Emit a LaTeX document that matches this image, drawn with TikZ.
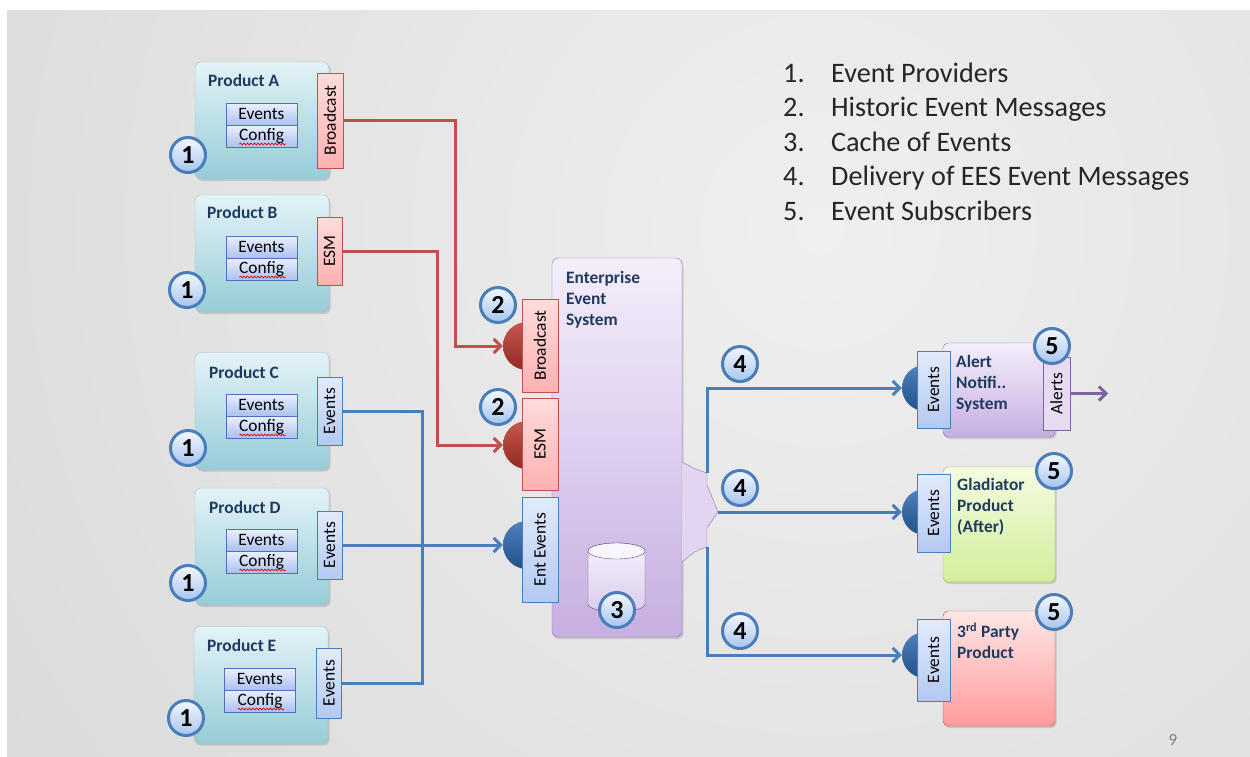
\documentclass[tikz,border=0pt]{standalone}
\usepackage{fontspec}
\setmainfont{Carlito}
\usepackage{tikz}
\usetikzlibrary{arrows.meta,positioning,calc,shapes.geometric,shadows,decorations.pathmorphing}

\definecolor{bggray}{HTML}{D6D6D6}
\definecolor{bglight}{HTML}{EFEFEF}
\definecolor{provtop}{HTML}{E3F3F7}
\definecolor{provbot}{HTML}{96CCD7}
\definecolor{provline}{HTML}{A3BEC5}
\definecolor{celltop}{HTML}{EAF0FF}
\definecolor{cellbot}{HTML}{ACC1EF}
\definecolor{cellline}{HTML}{4F6FBF}
\definecolor{redtop}{HTML}{FFDCDC}
\definecolor{redbot}{HTML}{FFB0B0}
\definecolor{redline}{HTML}{C0504D}
\definecolor{bluetop}{HTML}{E2EBFC}
\definecolor{bluebot}{HTML}{B3C9F2}
\definecolor{blueline}{HTML}{4A7EBB}
\definecolor{eestop}{HTML}{F4EEFB}
\definecolor{eesbot}{HTML}{C6AFE1}
\definecolor{eesline}{HTML}{8E70B2}
\definecolor{greentop}{HTML}{F4FCDF}
\definecolor{greenbot}{HTML}{D2EE9C}
\definecolor{greenline}{HTML}{9BBB59}
\definecolor{pinktop}{HTML}{FFE6E6}
\definecolor{pinkbot}{HTML}{FF9B9B}
\definecolor{numtop}{HTML}{F4F8FE}
\definecolor{numbot}{HTML}{A6C4EE}
\definecolor{titlecol}{HTML}{1F3A60}
\definecolor{discred}{HTML}{C0392F}
\definecolor{discblue}{HTML}{2F6BB3}
\definecolor{alertcol}{HTML}{8064A2}

\newcommand{\fsm}{\fontsize{17.4}{21.2}\selectfont}
\newcommand{\fsmb}{\fontsize{17.4}{21.2}\selectfont\bfseries}
\newcommand{\flist}{\fontsize{28.2}{34.5}\selectfont}
\newcommand{\fnum}{\fontsize{26}{26}\selectfont\bfseries}

\begin{document}
\begin{tikzpicture}[x=1pt,y=-1pt,
    prod/.style={draw=provline,rounded corners=6pt,minimum width=134pt,minimum height=117pt,top color=provtop,bottom color=provbot,drop shadow={shadow xshift=1.5pt,shadow yshift=-2pt,opacity=0.3}},
    ptitle/.style={anchor=west,inner sep=0pt,font=\fsmb,text=titlecol},
    btext/.style={anchor=north west,align=left,inner sep=0pt,font=\fsmb,text=titlecol},
    cell/.style={draw=cellline,minimum width=71pt,minimum height=21.5pt,inner sep=0pt,top color=celltop,bottom color=cellbot,font=\fsm},
    redtab/.style={draw=redline,rotate=90,inner sep=0pt,top color=redtop,bottom color=redbot,font=\fsm},
    bluetab/.style={draw=blueline,rotate=90,inner sep=0pt,top color=bluetop,bottom color=bluebot,font=\fsm},
    num/.style={circle,draw=blueline,line width=3pt,minimum size=35pt,inner sep=0pt,top color=numtop,bottom color=numbot,font=\fnum},
    reddisc/.style={circle,minimum size=48pt,inner sep=0pt,top color=discred!85!white,bottom color=discred!75!black},
    bluedisc/.style={circle,minimum size=46pt,inner sep=0pt,top color=discblue!85!white,bottom color=discblue!75!black},
    subbox/.style={rounded corners=5pt,minimum width=112pt,drop shadow={shadow xshift=1.5pt,shadow yshift=-2pt,opacity=0.3}},
    redarr/.style={draw=redline,line width=3pt,-{Straight Barb[length=7pt,width=14pt]}},
    bluearr/.style={draw=blueline,line width=3pt,-{Straight Barb[length=7pt,width=14pt]}},
    blueln/.style={draw=blueline,line width=3pt},
    purparr/.style={draw=alertcol,line width=3pt,-{Straight Barb[length=7pt,width=14pt]}},
    typo/.style={draw=red!85!black,line width=0.7pt,decorate,decoration={snake,amplitude=0.9pt,segment length=3.5pt}}
]
\useasboundingbox (0,0) rectangle (1250,756);
% slide background
\fill[white] (0,0) rectangle (1250,756);
\begin{scope}
\clip (7,10) rectangle (1270,780);
\fill[inner color=bglight,outer color=bggray] (-380,-970) rectangle (2020,1430);
\end{scope}

% providers
\node[prod] (pA) at (262,120.5) {};
\node[ptitle] (tA) at (208,80) {Product A};
\node[cell] (evA) at (261.5,114) {Events};
\node[cell] (cfgA) at (261.5,136) {Config};
\node[redtab,minimum width=95pt,minimum height=26pt] (bcA) at (330,120.5) {Broadcast};
\node[num] (nA) at (188,155) {1};

\node[prod] (pB) at (262,253.5) {};
\node[ptitle] (tB) at (207,212) {Product B};
\node[cell] (evB) at (261.5,247) {Events};
\node[cell] (cfgB) at (261.5,269) {Config};
\node[redtab,minimum width=68pt,minimum height=25pt] (esmB) at (329.5,251) {ESM};
\node[num] (nB) at (187,290) {1};

\node[prod] (pC) at (262,411) {};
\node[ptitle] (tC) at (209,372) {Product C};
\node[cell] (evC) at (261.5,405) {Events};
\node[cell] (cfgC) at (261.5,427) {Config};
\node[bluetab,minimum width=68pt,minimum height=25pt] (evtC) at (329.5,411) {Events};
\node[num] (nC) at (188,448) {1};

\node[prod] (pD) at (262,546.5) {};
\node[ptitle] (tD) at (209,507) {Product D};
\node[cell] (evD) at (261.5,540) {Events};
\node[cell] (cfgD) at (261.5,562) {Config};
\node[bluetab,minimum width=68pt,minimum height=25pt] (evtD) at (329.5,545) {Events};
\node[num] (nD) at (188,583) {1};

\node[prod] (pE) at (261,685) {};
\node[ptitle] (tE) at (207,645) {Product E};
\node[cell] (evE) at (260,679) {Events};
\node[cell] (cfgE) at (260,701) {Config};
\node[bluetab,minimum width=70pt,minimum height=25pt] (evtE) at (329,683) {Events};
\node[num] (nE) at (186,718) {1};

\foreach \p in {A,B,C,D,E}
  \draw[typo] ($(cfg\p)+(-22,8)$) -- ++(46,0);

% enterprise event system
\node[rounded corners=6pt,draw=eesline,minimum width=130pt,minimum height=379pt,top color=eestop,bottom color=eesbot,drop shadow={shadow xshift=1.5pt,shadow yshift=-2pt,opacity=0.3}] (ees) at (617,447.5) {};
\node[btext] (eesT) at (566,271) {Enterprise\\Event\\System};
\path[draw=eesline,fill=eestop!60!eesbot] (ees.east |- 0,462) .. controls (695,469) .. (707,473) -- (707,485) -- (718,512) -- (707,528) -- (707,547) .. controls (695,551) .. (ees.east |- 0,562);
\coordinate (ftop) at (707,473);
\coordinate (ftip) at (718,512);
\coordinate (fbot) at (707,547);
% cache cylinder
\path[draw=eesline!70!black,top color=eestop!80!white,bottom color=eestop!45!eesbot] (588,551) -- (588,604) arc[start angle=180,end angle=360,x radius=28.5pt,y radius=8pt] -- (645,551) arc[start angle=0,end angle=180,x radius=28.5pt,y radius=8pt] -- cycle;
\draw[eesline!70!black,fill=eestop!60!white] (616.5,551) ellipse [x radius=28.5pt,y radius=8pt];
\node[num] (n3) at (617,610) {3};

\node[reddisc] (dBc) at (527,346) {};
\node[reddisc] (dEsm) at (527,445) {};
\node[bluedisc,minimum size=48pt] (dEnt) at (527,545) {};
\node[redtab,minimum width=93pt,minimum height=36pt] (bcE) at (540,345.5) {Broadcast};
\node[redtab,minimum width=92pt,minimum height=36pt] (esmE) at (540,444) {ESM};
\node[bluetab,minimum width=105pt,minimum height=36pt] (entE) at (540,549.5) {Ent Events};
\node[num] (n2a) at (498,305) {2};
\node[num] (n2b) at (498,407) {2};

% provider connectors
\coordinate (jA) at (455,0);
\coordinate (jB) at (437,0);
\coordinate (jC) at (422,0);
\draw[redarr] (bcA.south) -- (bcA.south -| jA) |- (dBc.west);
\draw[redarr] (esmB.south) -- (esmB.south -| jB) |- (dEsm.west);
\draw[blueln] (evtC.south) -- (evtC.south -| jC) |- (evtE.south);
\draw[bluearr] (evtD.south) -- (dEnt.west);

% subscribers
\node[subbox,draw=eesline,minimum height=94pt,top color=eestop,bottom color=eesbot] (alert) at (999,390) {};
\node[subbox,draw=greenline,minimum height=115pt,top color=greentop,bottom color=greenbot] (glad) at (999,524.5) {};
\node[subbox,draw=redline,minimum height=115pt,top color=pinktop,bottom color=pinkbot] (third) at (999,668.5) {};
\node[btext] (alertT) at (956,355) {Alert\\Notifi..\\System};
\node[btext] (gladT) at (957,478) {Gladiator\\Product\\(After)};
\node[btext] (thirdT) at (957,622.5) {3\textsuperscript{rd} Party\\Product};

\node[bluedisc] (dAl) at (925,388) {};
\node[bluedisc] (dGl) at (925,512) {};
\node[bluedisc] (d3p) at (925,655) {};
\node[bluetab,minimum width=77pt,minimum height=33pt] (evAl) at (933.5,389.5) {Events};
\node[bluetab,minimum width=78pt,minimum height=33pt] (evGl) at (933.5,513) {Events};
\node[bluetab,minimum width=82pt,minimum height=33pt] (ev3p) at (933.5,660) {Events};
\node[draw=alertcol,rotate=90,inner sep=0pt,fill=eestop!70!eesbot,font=\fsm,minimum width=73pt,minimum height=27pt] (alt) at (1056.5,393.5) {Alerts};
\coordinate (aOut) at (1108,393.5);
\draw[purparr] (alt.south) -- (aOut);

\node[num] (n5a) at (1052,346) {5};
\node[num] (n5b) at (1054,471) {5};
\node[num] (n5c) at (1054,612) {5};

% delivery connectors
\draw[bluearr] (ftop) |- (dAl.west);
\draw[bluearr] (ftip) -- (dGl.west);
\draw[bluearr] (fbot) |- (d3p.west);
\node[num] (n4a) at (740,364) {4};
\node[num] (n4b) at (740,488) {4};
\node[num] (n4c) at (740,631) {4};

% legend
\node[anchor=north west,inner sep=0pt,font=\flist,text=black!85] (legend) at (783,58) {\begin{tabular}{@{}p{48pt}@{}l@{}}
1. & Event Providers\\
2. & Historic Event Messages\\
3. & Cache of Events\\
4. & Delivery of EES Event Messages\\
5. & Event Subscribers
\end{tabular}};
\node[font=\fontsize{17}{17}\selectfont,text=gray] (pgno) at (1173,740) {9};
\end{tikzpicture}
\end{document}
